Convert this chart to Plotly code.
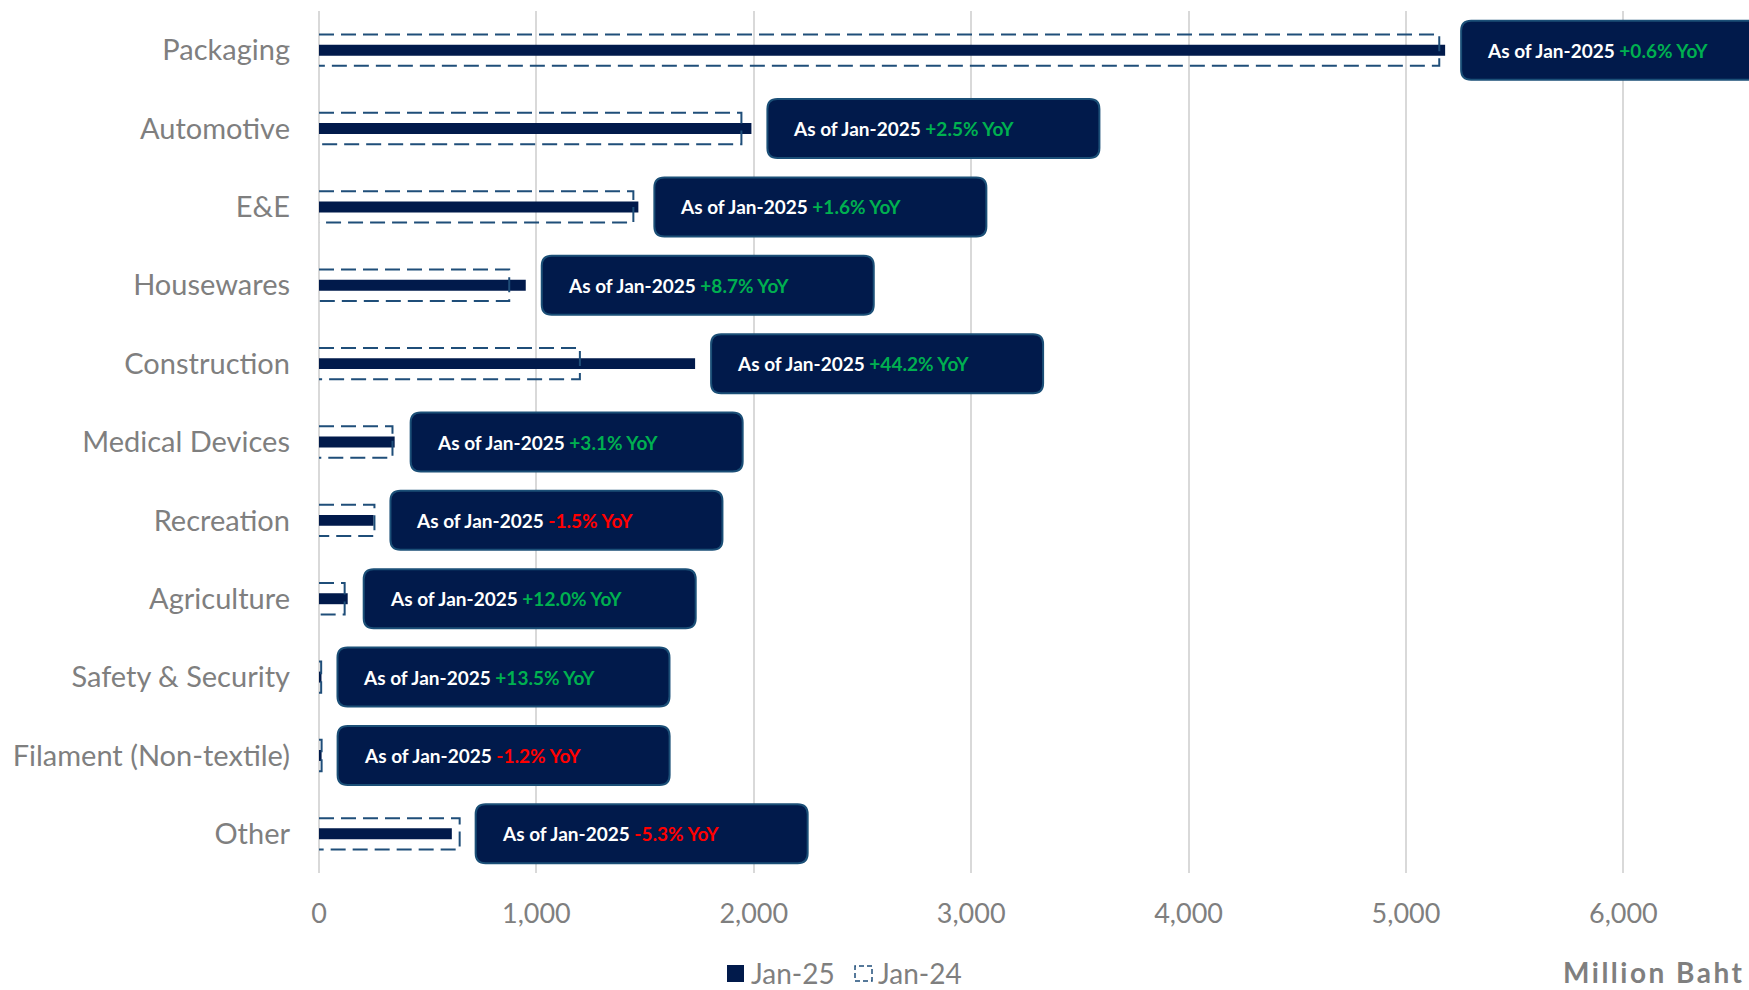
import plotly.graph_objects as go

categories = ["Packaging", "Automotive", "E&E", "Housewares", "Construction",
              "Medical Devices", "Recreation", "Agriculture", "Safety & Security",
              "Filament (Non-textile)", "Other"]
jan25 = [5180, 1989, 1469, 951, 1730, 348, 251, 132, 11.4, 11.9, 611]
jan24 = [5153, 1943, 1446, 875, 1200, 338, 255, 118, 10, 12, 647]
yoy = ["+0.6%", "+2.5%", "+1.6%", "+8.7%", "+44.2%", "+3.1%", "-1.5%",
       "+12.0%", "+13.5%", "-1.2%", "-5.3%"]
xticks = [0, 1000, 2000, 3000, 4000, 5000, 6000]
xticklabels = ["0", "1,000", "2,000", "3,000", "4,000", "5,000", "6,000"]

NAVY = "#011a4b"
DASH = "#1f4e79"
GRAY = "#7f7f7f"
FONT = "Lato"

W, H = 1749, 990
ML, MR, MT, MB = 319, 0, 11, 117
PW, PH = W - ML - MR, H - MT - MB
XMAX = PW / 217.4 * 1000

ypos = list(range(len(categories)))

fig = go.Figure()
fig.add_trace(go.Bar(
    x=jan25, y=ypos, orientation="h", width=0.14,
    marker=dict(color=NAVY, line=dict(width=0)), name="Jan-25", showlegend=False,
))

# Jan-24 dashed open boxes
xs, ys = [], []
for i, v in enumerate(jan24):
    xs += [0, v, v, 0, None]
    ys += [i - 0.2, i - 0.2, i + 0.2, i + 0.2, None]
fig.add_trace(go.Scatter(
    x=xs, y=ys, mode="lines", line=dict(color=DASH, width=2, dash="15px,7px"),
    name="Jan-24", showlegend=False, hoverinfo="skip",
))


def rr(x0, x1, y0, y1, r):
    return (f"M{x0+r},{y0} L{x1-r},{y0} Q{x1},{y0} {x1},{y0+r} "
            f"L{x1},{y1-r} Q{x1},{y1} {x1-r},{y1} L{x0+r},{y1} "
            f"Q{x0},{y1} {x0},{y1-r} L{x0},{y0+r} Q{x0},{y0} {x0+r},{y0} Z")


shapes = []
annotations = []
OFF = 16
BW, BH = 332, 59
for i, (a, b, y) in enumerate(zip(jan25, jan24, yoy)):
    m = max(a, b)
    shapes.append(dict(
        type="path", xref="x", yref="y", xsizemode="pixel", ysizemode="pixel",
        xanchor=m, yanchor=i, path=rr(OFF, OFF + BW, -BH / 2, BH / 2, 10),
        fillcolor=NAVY, line=dict(color="#1b4f77", width=2), layer="above",
    ))
    col = "#00b050" if y.startswith("+") else "#ff0000"
    annotations.append(dict(
        x=m, y=i, xref="x", yref="y", xanchor="left", yanchor="middle",
        xshift=OFF + 24, showarrow=False,
        text=f"<b>As of Jan-2025 <span style='color:{col}'>{y} YoY</span></b>",
        font=dict(family=FONT, size=19, color="white"),
    ))


def px(xp):
    return (xp - ML) / PW


def py(yp):
    return (H - MB - yp) / PH


# manual legend (positions in page pixels)
shapes.append(dict(type="rect", xref="paper", yref="paper",
                   x0=px(727), x1=px(744), y0=py(982), y1=py(965),
                   fillcolor=NAVY, line=dict(width=0)))
shapes.append(dict(type="rect", xref="paper", yref="paper",
                   x0=px(855), x1=px(872), y0=py(981), y1=py(966),
                   fillcolor="white", line=dict(color=DASH, width=1.5, dash="5px,3px")))
annotations.append(dict(x=px(749), y=py(973), xref="paper", yref="paper",
                        xanchor="left", yanchor="middle", showarrow=False,
                        text="Jan-25", font=dict(family=FONT, size=28, color=GRAY)))
annotations.append(dict(x=px(876), y=py(973), xref="paper", yref="paper",
                        xanchor="left", yanchor="middle", showarrow=False,
                        text="Jan-24", font=dict(family=FONT, size=28, color=GRAY)))
annotations.append(dict(x=px(1747), y=py(972), xref="paper", yref="paper",
                        xanchor="right", yanchor="middle", showarrow=False,
                        text="<b><span style='letter-spacing:2.5px'>Million Baht</span></b>",
                        font=dict(family=FONT, size=28, color=GRAY)))

fig.update_layout(
    width=W, height=H,
    margin=dict(l=ML, r=MR, t=MT, b=MB, pad=0),
    plot_bgcolor="white", paper_bgcolor="white",
    barmode="overlay",
    shapes=shapes, annotations=annotations,
    showlegend=False,
    xaxis=dict(range=[0, XMAX], tickvals=xticks, ticktext=xticklabels,
               showgrid=True, gridcolor="#d9d9d9", gridwidth=2,
               zeroline=True, zerolinecolor="#d9d9d9", zerolinewidth=2,
               showline=False, ticks="", ticklabelstandoff=22,
               tickfont=dict(family=FONT, size=27, color=GRAY), fixedrange=True),
    yaxis=dict(range=[10.5, -0.5], tickvals=ypos, ticktext=categories,
               showgrid=False, zeroline=False, showline=False, ticks="",
               ticklabelstandoff=28,
               tickfont=dict(family=FONT, size=29, color=GRAY), fixedrange=True),
)

fig.write_html(
    "out.html",
    config={"displayModeBar": False},
    post_script="document.body.style.margin='0';document.body.style.overflow='hidden';",
)
